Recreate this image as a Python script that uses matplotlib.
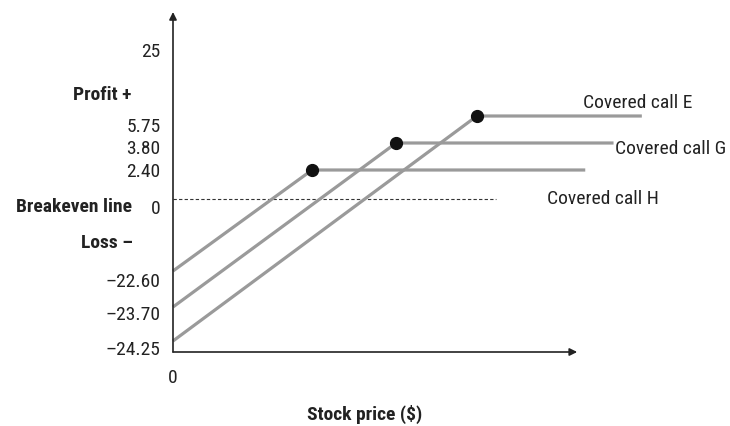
import numpy as np
import matplotlib
matplotlib.use("Agg")
import matplotlib.pyplot as plt
from matplotlib.transforms import ScaledTranslation

plt.rcParams['font.family'] = ['Roboto Condensed', 'Liberation Sans Narrow', 'Liberation Sans', 'DejaVu Sans']

# covered call payoff sketch (schematic positions, not to scale)
calls = ['Covered call E', 'Covered call G', 'Covered call H']
max_profit = [5.75, 3.80, 2.40]
max_loss = [-24.25, -23.70, -22.60]
strike_x = [75.2, 55.2, 34.4]
end_x = [116, 109, 102]

ytick_vals = [25, 5.75, 3.80, 2.40, 0, -22.60, -23.70, -24.25]
ytick_txt = ['25', '5.75', '3.80', '2.40', '0', '\u201322.60', '\u201323.70', '\u201324.25']

# the y axis of the original is not linear, so map value -> pixel row
knot_v = np.array([-25, -24.25, -23.70, -22.60, 0, 2.40, 3.80, 5.75, 25, 35])
knot_p = -np.array([352, 341, 307, 271, 199, 170, 143, 116, 44, 12], float)


def fwd(v):
    v = np.asarray(v, float)
    out = np.interp(v, knot_v, knot_p)
    s0 = (knot_p[1] - knot_p[0]) / (knot_v[1] - knot_v[0])
    s1 = (knot_p[-1] - knot_p[-2]) / (knot_v[-1] - knot_v[-2])
    out = np.where(v < knot_v[0], knot_p[0] + (v - knot_v[0]) * s0, out)
    out = np.where(v > knot_v[-1], knot_p[-1] + (v - knot_v[-1]) * s1, out)
    return out


def inv(p):
    p = np.asarray(p, float)
    out = np.interp(p, knot_p, knot_v)
    s0 = (knot_v[1] - knot_v[0]) / (knot_p[1] - knot_p[0])
    s1 = (knot_v[-1] - knot_v[-2]) / (knot_p[-1] - knot_p[-2])
    out = np.where(p < knot_p[0], knot_v[0] + (p - knot_p[0]) * s0, out)
    out = np.where(p > knot_p[-1], knot_v[-1] + (p - knot_p[-1]) * s1, out)
    return out


W, H = 730, 426
fig = plt.figure(figsize=(W / 100, H / 100), dpi=100)
ax = fig.add_axes([173 / W, (H - 352) / H, (658 - 173) / W, (352 - 12) / H])
ax.set_yscale('function', functions=(fwd, inv))
ax.set_xlim(0, 120)
ax.set_ylim(-25, 35)
for sp in ax.spines.values():
    sp.set_visible(False)

fs = 14
gray = '#9a9a9a'
ink = '#222222'

# axes with arrows
arr = dict(arrowstyle='-|>', color=ink, lw=1.2, mutation_scale=11, shrinkA=0, shrinkB=0)
ax.annotate('', xy=(100, -25), xytext=(0, -25), arrowprops=arr, annotation_clip=False)
ax.annotate('', xy=(0, 35), xytext=(0, -25), arrowprops=arr, annotation_clip=False)

# breakeven line
ax.plot([0, 80], [0, 0], color='#333333', lw=0.8, linestyle=(0, (3, 2)), clip_on=False)

label_off = [(-59, 13), (1, -6), (-38, -29)]
for i in range(len(calls)):
    ax.plot([0, strike_x[i], end_x[i]], [max_loss[i], max_profit[i], max_profit[i]],
            color=gray, lw=2.3, solid_capstyle='butt', clip_on=False, zorder=2)
    ax.plot(strike_x[i], max_profit[i], 'o', color='#111111', ms=8.5, clip_on=False, zorder=3)
    ax.annotate(calls[i], xy=(end_x[i], max_profit[i]), xytext=label_off[i],
                textcoords='offset pixels', ha='left', va='center', fontsize=fs,
                color=ink, annotation_clip=False)

ax.set_yticks(ytick_vals)
ax.set_yticklabels(ytick_txt)
ax.set_xticks([0])
ax.set_xticklabels(['0'])
ax.tick_params(axis='y', length=0, pad=9, labelsize=fs, labelcolor=ink)
ax.tick_params(axis='x', length=0, pad=12, labelsize=fs, labelcolor=ink)
ax.minorticks_off()

nudge = [6, 9, 4, 0, 8, 9, 6, 7]
for lab, d in zip(ax.get_yticklabels(), nudge):
    lab.set_transform(lab.get_transform() + ScaledTranslation(0, -d / 100, fig.dpi_scale_trans))

fig.text(131 / W, 1 - 95 / H, 'Profit +', ha='right', va='center', fontsize=fs, fontweight='bold', color=ink)
fig.text(132 / W, 1 - 207 / H, 'Breakeven line', ha='right', va='center', fontsize=fs, fontweight='bold', color=ink)
fig.text(133 / W, 1 - 243 / H, 'Loss \u2013', ha='right', va='center', fontsize=fs, fontweight='bold', color=ink)
fig.text(365 / W, 1 - 414 / H, 'Stock price ($)', ha='center', va='center', fontsize=fs, fontweight='bold', color=ink)

fig.savefig('out.png', dpi=100)
